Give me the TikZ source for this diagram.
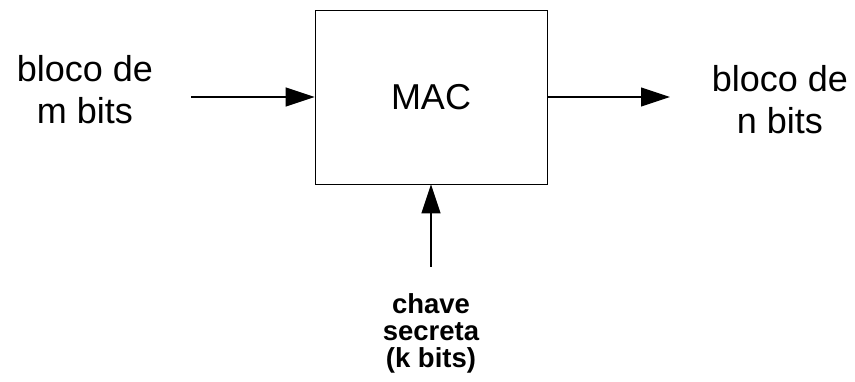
\documentclass[tikz,border=0pt]{standalone}
\usepackage{fontspec}
\setmainfont{Liberation Sans}
\usetikzlibrary{arrows.meta}

\begin{document}
\begin{tikzpicture}[x=1pt,y=-1pt,
    bigtxt/.style={align=center,font=\fontsize{36}{42}\selectfont},
    keytxt/.style={align=center,font=\fontsize{27.5}{27}\selectfont\bfseries},
    arr/.style={draw,line width=1.2pt,-{Triangle[length=29pt,width=19pt]}}]
    \useasboundingbox (0,0) rectangle (855,382);
    \node[bigtxt,draw,line width=0.9pt,minimum width=232pt,minimum height=174pt,inner sep=0pt] (M) at (431,97) {MAC};
    \node[bigtxt] (In) at (85,90) {bloco de\\m bits};
    \node[bigtxt] (Out) at (780,100) {bloco de\\n bits};
    \node[keytxt] (K) at (431,333) {chave\\secreta\\(k bits)};
    \coordinate (In0) at (191,97);
    \coordinate (Out0) at (670,97);
    \coordinate (K0) at (431,267);
    \path (In0) edge[arr] (M.west);
    \path (M.east) edge[arr] (Out0);
    \path (K0) edge[arr] (M.south);
  \end{tikzpicture}
\end{document}
